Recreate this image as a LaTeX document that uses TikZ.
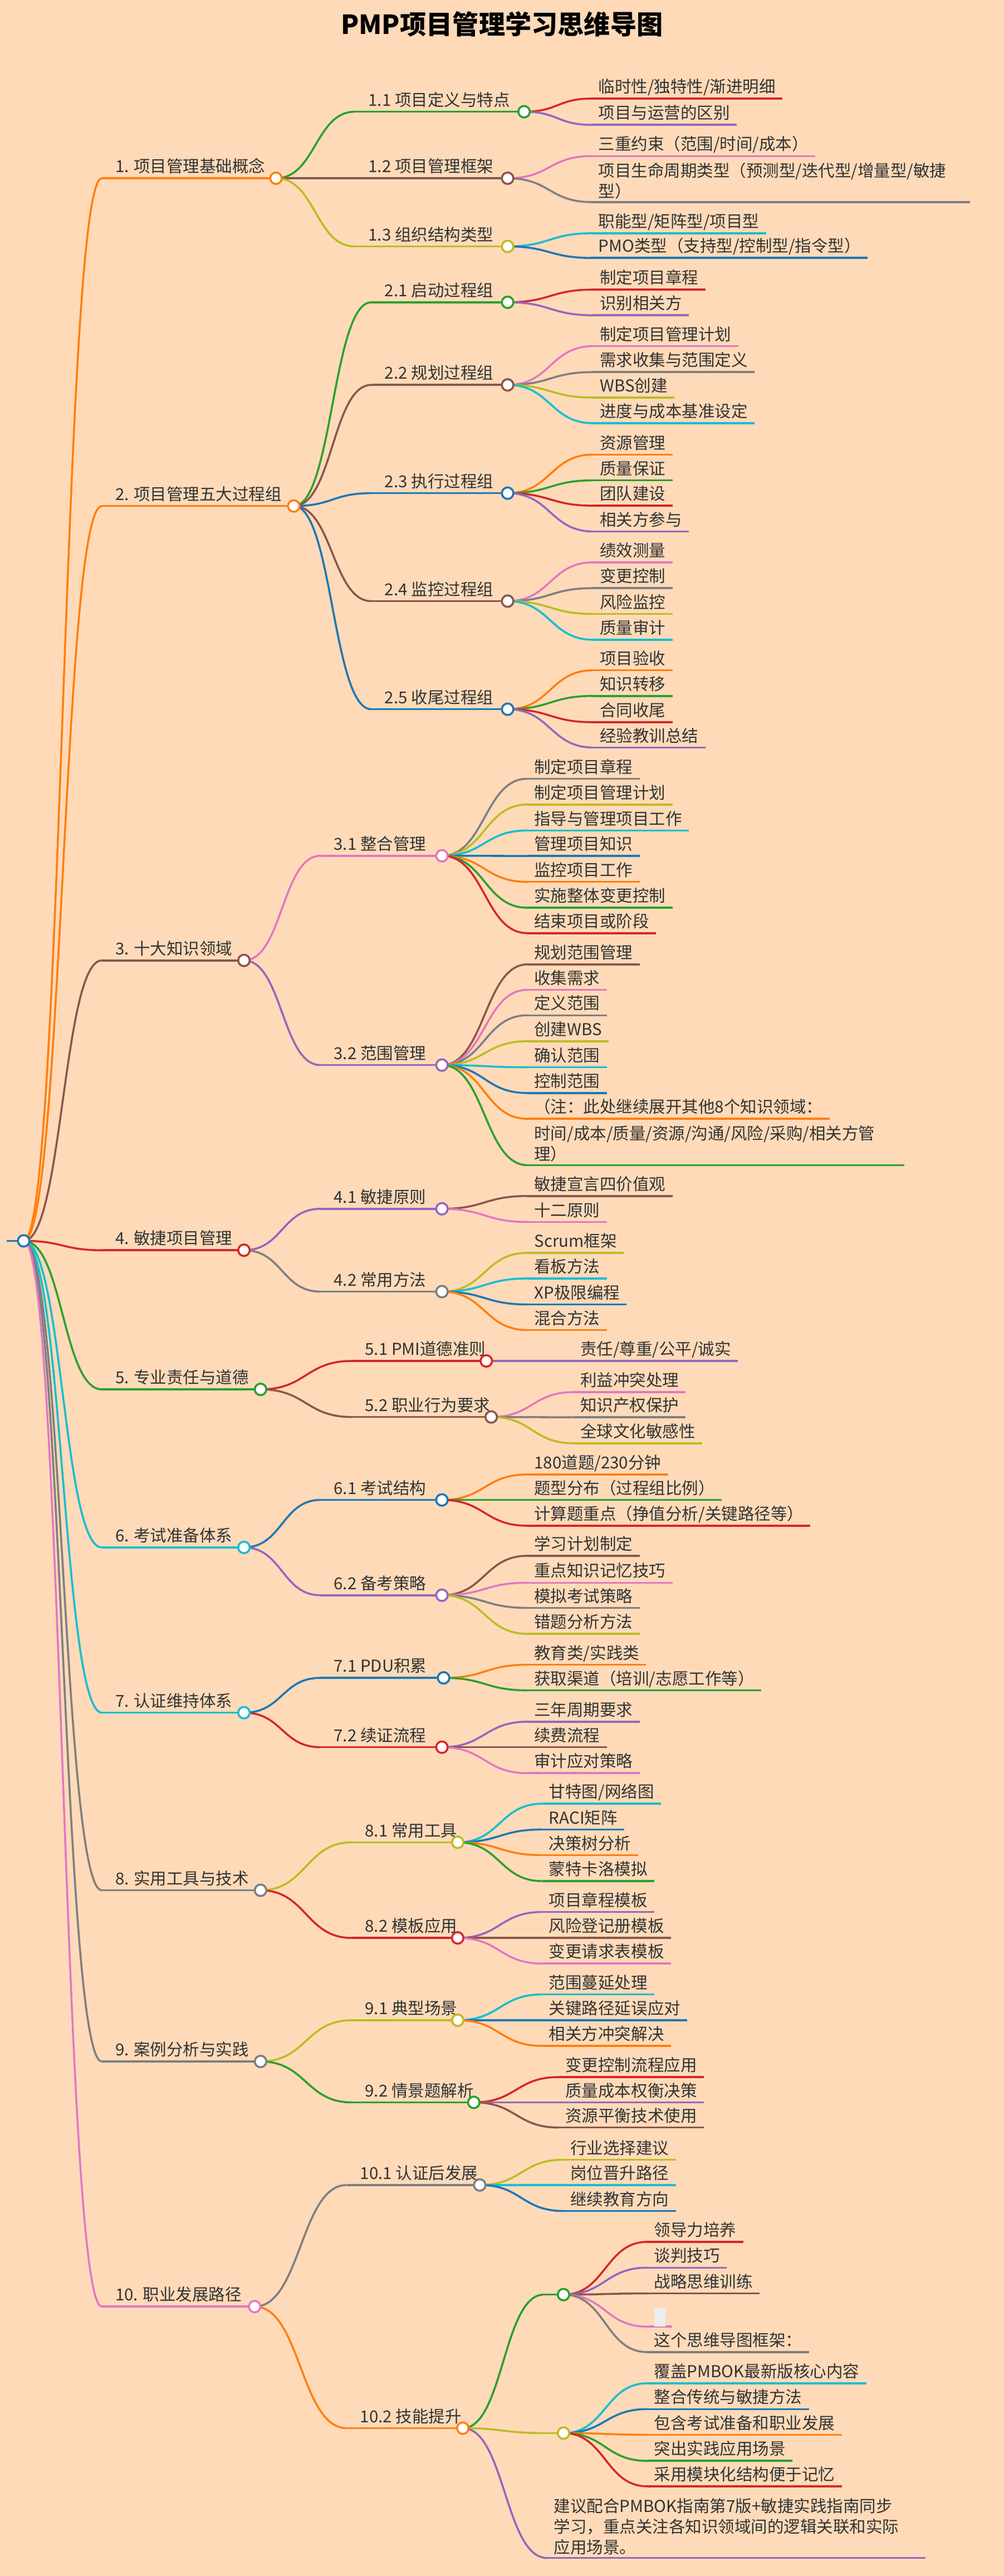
\documentclass[tikz,border=0pt]{standalone}
\usepackage{fontspec}
\setmainfont{Noto Sans CJK SC}
\usepackage{tikz}
\usetikzlibrary{calc,positioning}

\definecolor{mmorange}{HTML}{FF7F0E}
\definecolor{mmgreen}{HTML}{2CA02C}
\definecolor{mmred}{HTML}{D62728}
\definecolor{mmpurple}{HTML}{9467BD}
\definecolor{mmbrown}{HTML}{8C564B}
\definecolor{mmpink}{HTML}{E377C2}
\definecolor{mmgray}{HTML}{7F7F7F}
\definecolor{mmolive}{HTML}{BCBD22}
\definecolor{mmcyan}{HTML}{17BECF}
\definecolor{mmblue}{HTML}{1F77B4}
\definecolor{paper}{HTML}{FFDAB9}
\definecolor{ink}{HTML}{333333}

\pgfdeclarelayer{fg}
\pgfsetlayers{main,fg}

% curve from a parent circle to the start of a child line
\newcommand{\mmlink}[3]{%
  \draw[link,#3] let \p1=(#1), \p2=(#2) in
    (\p1) .. controls ({(\x1+\x2)/2},\y1) and ({(\x1+\x2)/2},\y2) .. (\p2);}
% topic: name, parent, x start, x circle, y, colour, text
\newcommand{\mmtopic}[7]{%
  \coordinate (#1-s) at (#3,-#5);
  \coordinate (#1) at (#4,-#5);
  \mmlink{#2}{#1-s}{#6}
  \draw[link,#6] (#1-s) -- (#1);
  \node[topic] (#1-t) at ($(#1-s)+(8,3.5)$) {#7};
  \begin{pgfonlayer}{fg}\node[dot,draw=#6] (#1-c) at (#1) {};\end{pgfonlayer}}
% leaf: name, parent, x start, y, colour, text
\newcommand{\mmleaf}[6]{%
  \coordinate (#1-s) at (#3,-#4);
  \mmlink{#2}{#1-s}{#5}
  \node[leaf] (#1) at ($(#1-s)+(0,3.5)$) {#6};
  \draw[link,#5] (#1-s) -- (#1-s -| #1.east);}
% leaf of several lines: name, parent, x start, y, width, colour, text
\newcommand{\mmnote}[7]{%
  \coordinate (#1-s) at (#3,-#4);
  \mmlink{#2}{#1-s}{#6}
  \node[note,text width=#5pt] (#1) at ($(#1-s)+(0,0.8)$) {#7};
  \draw[link,#6] (#1-s) -- (#1-s -| #1.east);}

\begin{document}
\begin{tikzpicture}[x=1pt,y=1pt,font=\fontsize{10}{12.5}\selectfont,text=ink]

   \tikzstyle{link}=[line width=1.2pt]
   \tikzstyle{dot}=[circle,fill=white,line width=1.2pt,inner sep=0pt,minimum size=7pt]
   \tikzstyle{topic}=[anchor=base west,inner sep=0pt]
   \tikzstyle{leaf}=[anchor=base west,inner xsep=4pt,inner ysep=0pt]
   \tikzstyle{note}=[anchor=south west,align=left,inner xsep=4pt,inner ysep=1pt]

   \fill[paper] (0,0) rectangle (611,-1568);
   \useasboundingbox (0,0) rectangle (611,-1568);

   \node[font=\fontsize{16}{18}\selectfont\bfseries,anchor=base,text=black] (title) at (305.5,-21) {PMP项目管理学习思维导图};

   \coordinate (root) at (14.4,-755.3);
   \coordinate (root-w) at (4,-755.3);
   \draw[link,mmblue] (root-w) -- (root);

   % 1
   \mmtopic{b1}{root}{62}{168}{108.5}{mmorange}{1. 项目管理基础概念}
   \mmtopic{b11}{b1}{216}{319}{68}{mmgreen}{1.1 项目定义与特点}
   \mmleaf{l111}{b11}{360}{60}{mmred}{临时性/独特性/渐进明细}
   \mmleaf{l112}{b11}{360}{76}{mmpurple}{项目与运营的区别}
   \mmtopic{b12}{b1}{216}{309}{108.5}{mmbrown}{1.2 项目管理框架}
   \mmleaf{l121}{b12}{360}{95}{mmpink}{三重约束（范围/时间/成本）}
   \mmnote{l122}{b12}{360}{123}{222}{mmgray}{项目生命周期类型（预测型/迭代型/增量型/敏捷\\型）}
   \mmtopic{b13}{b1}{216}{309}{150}{mmolive}{1.3 组织结构类型}
   \mmleaf{l131}{b13}{360}{142}{mmcyan}{职能型/矩阵型/项目型}
   \mmleaf{l132}{b13}{360}{157}{mmblue}{PMO类型（支持型/控制型/指令型）}

   % 2
   \mmtopic{b2}{root}{62}{178.8}{308}{mmorange}{2. 项目管理五大过程组}
   \mmtopic{b21}{b2}{226}{309}{184}{mmgreen}{2.1 启动过程组}
   \mmleaf{l211}{b21}{361}{176.3}{mmred}{制定项目章程}
   \mmleaf{l212}{b21}{361}{191.9}{mmpurple}{识别相关方}
   \mmtopic{b22}{b2}{226}{309}{234.3}{mmbrown}{2.2 规划过程组}
   \mmleaf{l221}{b22}{361}{210.7}{mmpink}{制定项目管理计划}
   \mmleaf{l222}{b22}{361}{226.5}{mmgray}{需求收集与范围定义}
   \mmleaf{l223}{b22}{361}{242}{mmolive}{WBS创建}
   \mmleaf{l224}{b22}{361}{257.6}{mmcyan}{进度与成本基准设定}
   \mmtopic{b23}{b2}{226}{309}{300.2}{mmblue}{2.3 执行过程组}
   \mmleaf{l231}{b23}{361}{276.7}{mmorange}{资源管理}
   \mmleaf{l232}{b23}{361}{292.4}{mmgreen}{质量保证}
   \mmleaf{l233}{b23}{361}{307.8}{mmred}{团队建设}
   \mmleaf{l234}{b23}{361}{323.5}{mmpurple}{相关方参与}
   \mmtopic{b24}{b2}{226}{309}{365.9}{mmbrown}{2.4 监控过程组}
   \mmleaf{l241}{b24}{361}{342.3}{mmpink}{绩效测量}
   \mmleaf{l242}{b24}{361}{358}{mmgray}{变更控制}
   \mmleaf{l243}{b24}{361}{373.7}{mmolive}{风险监控}
   \mmleaf{l244}{b24}{361}{389.4}{mmcyan}{质量审计}
   \mmtopic{b25}{b2}{226}{309}{431.7}{mmblue}{2.5 收尾过程组}
   \mmleaf{l251}{b25}{361}{408}{mmorange}{项目验收}
   \mmleaf{l252}{b25}{361}{423.6}{mmgreen}{知识转移}
   \mmleaf{l253}{b25}{361}{439.6}{mmred}{合同收尾}
   \mmleaf{l254}{b25}{361}{455}{mmpurple}{经验教训总结}

   % 3
   \mmtopic{b3}{root}{62}{148.5}{584.6}{mmbrown}{3. 十大知识领域}
   \mmtopic{b31}{b3}{195}{269}{520.9}{mmpink}{3.1 整合管理}
   \mmleaf{l311}{b31}{321}{474}{mmgray}{制定项目章程}
   \mmleaf{l312}{b31}{321}{489.7}{mmolive}{制定项目管理计划}
   \mmleaf{l313}{b31}{321}{505.5}{mmcyan}{指导与管理项目工作}
   \mmleaf{l314}{b31}{321}{521}{mmblue}{管理项目知识}
   \mmleaf{l315}{b31}{321}{536.8}{mmorange}{监控项目工作}
   \mmleaf{l316}{b31}{321}{552.5}{mmgreen}{实施整体变更控制}
   \mmleaf{l317}{b31}{321}{568}{mmred}{结束项目或阶段}
   \mmtopic{b32}{b3}{195}{269}{648.3}{mmpurple}{3.2 范围管理}
   \mmleaf{l321}{b32}{321}{587}{mmbrown}{规划范围管理}
   \mmleaf{l322}{b32}{321}{602.5}{mmpink}{收集需求}
   \mmleaf{l323}{b32}{321}{618}{mmgray}{定义范围}
   \mmleaf{l324}{b32}{321}{633.8}{mmolive}{创建WBS}
   \mmleaf{l325}{b32}{321}{649.6}{mmcyan}{确认范围}
   \mmleaf{l326}{b32}{321}{665.3}{mmblue}{控制范围}
   \mmleaf{l327}{b32}{321}{681}{mmorange}{（注：此处继续展开其他8个知识领域：}
   \mmnote{l328}{b32}{321}{709.2}{221}{mmgreen}{时间/成本/质量/资源/沟通/风险/采购/相关方管\\理）}

   % 4
   \mmtopic{b4}{root}{62}{148.5}{761}{mmred}{4. 敏捷项目管理}
   \mmtopic{b41}{b4}{195}{269}{735.8}{mmpurple}{4.1 敏捷原则}
   \mmleaf{l411}{b41}{321}{728}{mmbrown}{敏捷宣言四价值观}
   \mmleaf{l412}{b41}{321}{743.8}{mmpink}{十二原则}
   \mmtopic{b42}{b4}{195}{269}{786.2}{mmgray}{4.2 常用方法}
   \mmleaf{l421}{b42}{321}{762.6}{mmolive}{Scrum框架}
   \mmleaf{l422}{b42}{321}{778.2}{mmcyan}{看板方法}
   \mmleaf{l423}{b42}{321}{794}{mmblue}{XP极限编程}
   \mmleaf{l424}{b42}{321}{809.6}{mmorange}{混合方法}

   % 5
   \mmtopic{b5}{root}{62}{158.6}{845.7}{mmgreen}{5. 专业责任与道德}
   \mmtopic{b51}{b5}{214}{296}{828.4}{mmred}{5.1 PMI道德准则}
   \mmleaf{l511}{b51}{349}{828.4}{mmpurple}{责任/尊重/公平/诚实}
   \mmtopic{b52}{b5}{214}{299}{862.5}{mmbrown}{5.2 职业行为要求}
   \mmleaf{l521}{b52}{349}{847.4}{mmpink}{利益冲突处理}
   \mmleaf{l522}{b52}{349}{862.7}{mmgray}{知识产权保护}
   \mmleaf{l523}{b52}{349}{878.5}{mmolive}{全球文化敏感性}

   % 6
   \mmtopic{b6}{root}{62}{148.5}{941.9}{mmcyan}{6. 考试准备体系}
   \mmtopic{b61}{b6}{195}{269}{913}{mmblue}{6.1 考试结构}
   \mmleaf{l611}{b61}{321}{897.5}{mmorange}{180道题/230分钟}
   \mmleaf{l612}{b61}{321}{913}{mmgreen}{题型分布（过程组比例）}
   \mmleaf{l613}{b61}{321}{928.7}{mmred}{计算题重点（挣值分析/关键路径等）}
   \mmtopic{b62}{b6}{195}{269}{971}{mmpurple}{6.2 备考策略}
   \mmleaf{l621}{b62}{321}{947}{mmbrown}{学习计划制定}
   \mmleaf{l622}{b62}{321}{963.4}{mmpink}{重点知识记忆技巧}
   \mmleaf{l623}{b62}{321}{978.7}{mmgray}{模拟考试策略}
   \mmleaf{l624}{b62}{321}{994.5}{mmolive}{错题分析方法}

   % 7
   \mmtopic{b7}{root}{62}{148.5}{1042.5}{mmcyan}{7. 认证维持体系}
   \mmtopic{b71}{b7}{195}{270}{1021.3}{mmblue}{7.1 PDU积累}
   \mmleaf{l711}{b71}{321}{1013.3}{mmorange}{教育类/实践类}
   \mmleaf{l712}{b71}{321}{1028.9}{mmgreen}{获取渠道（培训/志愿工作等）}
   \mmtopic{b72}{b7}{195}{269}{1063.5}{mmred}{7.2 续证流程}
   \mmleaf{l721}{b72}{321}{1048}{mmpurple}{三年周期要求}
   \mmleaf{l722}{b72}{321}{1063.5}{mmbrown}{续费流程}
   \mmleaf{l723}{b72}{321}{1079.3}{mmpink}{审计应对策略}

   % 8
   \mmtopic{b8}{root}{62}{158.6}{1150.6}{mmgray}{8. 实用工具与技术}
   \mmtopic{b81}{b8}{214}{278.6}{1121.4}{mmolive}{8.1 常用工具}
   \mmleaf{l811}{b81}{330}{1097.9}{mmcyan}{甘特图/网络图}
   \mmleaf{l812}{b81}{330}{1113.6}{mmblue}{RACI矩阵}
   \mmleaf{l813}{b81}{330}{1129.2}{mmorange}{决策树分析}
   \mmleaf{l814}{b81}{330}{1145}{mmgreen}{蒙特卡洛模拟}
   \mmtopic{b82}{b8}{214}{278.6}{1179.6}{mmred}{8.2 模板应用}
   \mmleaf{l821}{b82}{330}{1163.8}{mmpurple}{项目章程模板}
   \mmleaf{l822}{b82}{330}{1179.6}{mmbrown}{风险登记册模板}
   \mmleaf{l823}{b82}{330}{1195.2}{mmpink}{变更请求表模板}

   % 9
   \mmtopic{b9}{root}{62}{158.6}{1254.8}{mmgray}{9. 案例分析与实践}
   \mmtopic{b91}{b9}{214}{278.6}{1229.7}{mmolive}{9.1 典型场景}
   \mmleaf{l911}{b91}{330}{1214}{mmcyan}{范围蔓延处理}
   \mmleaf{l912}{b91}{330}{1229.7}{mmblue}{关键路径延误应对}
   \mmleaf{l913}{b91}{330}{1245.3}{mmorange}{相关方冲突解决}
   \mmtopic{b92}{b9}{214}{288.4}{1279.7}{mmgreen}{9.2 情景题解析}
   \mmleaf{l921}{b92}{340}{1264.3}{mmred}{变更控制流程应用}
   \mmleaf{l922}{b92}{340}{1279.7}{mmpurple}{质量成本权衡决策}
   \mmleaf{l923}{b92}{340}{1295}{mmbrown}{资源平衡技术使用}

   % 10
   \mmtopic{b10}{root}{62}{155}{1404}{mmpink}{10. 职业发展路径}
   \mmtopic{b101}{b10}{211}{292}{1330}{mmgray}{10.1 认证后发展}
   \mmleaf{l1011}{b101}{343}{1314.6}{mmolive}{行业选择建议}
   \mmleaf{l1012}{b101}{343}{1330}{mmcyan}{岗位晋升路径}
   \mmleaf{l1013}{b101}{343}{1345.8}{mmblue}{继续教育方向}
   \mmtopic{b102}{b10}{211}{281.7}{1478}{mmorange}{10.2 技能提升}
   \mmtopic{s1}{b102}{331}{343}{1396.7}{mmgreen}{}
   \mmleaf{s11}{s1}{394}{1364.6}{mmred}{领导力培养}
   \mmleaf{s12}{s1}{394}{1380.3}{mmpurple}{谈判技巧}
   \mmleaf{s13}{s1}{394}{1396}{mmbrown}{战略思维训练}
   \coordinate (s14-s) at (394,-1416.2);
   \coordinate (s14-e) at (409,-1416.2);
   \mmlink{s1}{s14-s}{mmpink}
   \draw[link,mmpink] (s14-s) -- (s14-e);
   \node[fill=black!7,anchor=south west,inner sep=0pt,minimum width=7pt,minimum height=11pt] (s14) at (398,-1416.2) {};
   \mmleaf{s15}{s1}{394}{1431.7}{mmgray}{这个思维导图框架：}
   \mmtopic{s2}{b102}{331}{343}{1481}{mmolive}{}
   \mmleaf{s21}{s2}{394}{1450.7}{mmcyan}{覆盖PMBOK最新版核心内容}
   \mmleaf{s22}{s2}{394}{1466.4}{mmblue}{整合传统与敏捷方法}
   \mmleaf{s23}{s2}{394}{1482}{mmorange}{包含考试准备和职业发展}
   \mmleaf{s24}{s2}{394}{1497.9}{mmgreen}{突出实践应用场景}
   \mmleaf{s25}{s2}{394}{1513.4}{mmred}{采用模块化结构便于记忆}
   \mmnote{s3}{b102}{333}{1557}{222}{mmpurple}{建议配合PMBOK指南第7版+敏捷实践指南同步\\学习，重点关注各知识领域间的逻辑关联和实际\\应用场景。}

   \begin{pgfonlayer}{fg}\node[dot,draw=mmblue] (root-c) at (root) {};\end{pgfonlayer}

\end{tikzpicture}
\end{document}
